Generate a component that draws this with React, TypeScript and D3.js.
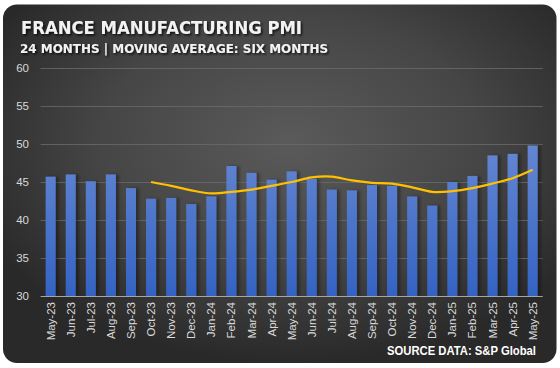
import React, { useRef, useEffect } from "react";
import * as d3 from "d3";

// month labels on the x axis
const months = [
  "May-23", "Jun-23", "Jul-23", "Aug-23", "Sep-23", "Oct-23", "Nov-23", "Dec-23",
  "Jan-24", "Feb-24", "Mar-24", "Apr-24", "May-24", "Jun-24", "Jul-24", "Aug-24",
  "Sep-24", "Oct-24", "Nov-24", "Dec-24", "Jan-25", "Feb-25", "Mar-25", "Apr-25", "May-25",
];

// monthly PMI readings
const pmi = [
  45.7, 46.0, 45.1, 46.0, 44.2, 42.8, 42.9, 42.1, 43.1, 47.1, 46.2, 45.3, 46.4,
  45.4, 44.0, 43.9, 44.6, 44.5, 43.1, 41.9, 45.0, 45.8, 48.5, 48.7, 49.8,
];

// six month moving average (starts at Oct-23)
const maMonths = months.slice(5);
const movingAvg = [
  45.0, 44.5, 43.9, 43.5, 43.7, 44.0, 44.5, 45.0, 45.6, 45.7, 45.2, 44.9, 44.8,
  44.3, 43.7, 43.8, 44.2, 44.8, 45.5, 46.6,
];

const yTicks = [30, 35, 40, 45, 50, 55, 60];

const W = 560;
const H = 368;

const App = () => {
  const svgRef = useRef(null);

  const drawChart = () => {
    const svg = d3.select(svgRef.current);
    svg.selectAll("*").remove();

    const plot = { left: 40.6, right: 542.7, top: 68, bottom: 296 };

    const defs = svg.append("defs");

    /* card background */
    const bg = defs
      .append("radialGradient")
      .attr("id", "bgGrad")
      .attr("cx", "52%")
      .attr("cy", "38%")
      .attr("r", "62%");
    bg.append("stop").attr("offset", "0%").attr("stop-color", "#5a5a5a");
    bg.append("stop").attr("offset", "55%").attr("stop-color", "#464646");
    bg.append("stop").attr("offset", "100%").attr("stop-color", "#292929");

    /* bar fill */
    const barGrad = defs
      .append("linearGradient")
      .attr("id", "barGrad")
      .attr("gradientUnits", "userSpaceOnUse")
      .attr("x1", 0)
      .attr("x2", 0)
      .attr("y1", 140)
      .attr("y2", plot.bottom);
    barGrad.append("stop").attr("offset", "0%").attr("stop-color", "#6688d2");
    barGrad.append("stop").attr("offset", "100%").attr("stop-color", "#3463c3");

    const barShadow = defs.append("filter").attr("id", "barShadow")
      .attr("x", "-20%").attr("y", "-5%").attr("width", "160%").attr("height", "110%");
    barShadow
      .append("feDropShadow")
      .attr("dx", 3)
      .attr("dy", 0)
      .attr("stdDeviation", 1.5)
      .attr("flood-color", "#000")
      .attr("flood-opacity", 0.35);

    const textShadow = defs.append("filter").attr("id", "textShadow");
    textShadow
      .append("feDropShadow")
      .attr("dx", 1.5)
      .attr("dy", 1.5)
      .attr("stdDeviation", 1)
      .attr("flood-color", "#000")
      .attr("flood-opacity", 0.8);

    svg
      .append("rect")
      .attr("width", W)
      .attr("height", H)
      .attr("fill", "#ffffff");

    svg
      .append("rect")
      .attr("x", 3)
      .attr("y", 4.5)
      .attr("width", 553.5)
      .attr("height", 358.5)
      .attr("rx", 14)
      .attr("fill", "url(#bgGrad)");

    /* scales */
    const xScale = d3
      .scaleBand()
      .domain(months)
      .range([plot.left, plot.right])
      .paddingInner(0.5)
      .paddingOuter(0.25);

    const yScale = d3.scaleLinear().domain([30, 60]).range([plot.bottom, plot.top]);

    /* gridlines */
    svg
      .append("g")
      .selectAll("line")
      .data(yTicks.filter((t) => t > 30))
      .enter()
      .append("line")
      .attr("x1", plot.left)
      .attr("x2", plot.right)
      .attr("y1", (d) => yScale(d) + 0.5)
      .attr("y2", (d) => yScale(d) + 0.5)
      .attr("stroke", "#6b6b6b")
      .attr("stroke-width", 0.8);

    /* y labels */
    svg
      .append("g")
      .selectAll("text")
      .data(yTicks)
      .enter()
      .append("text")
      .attr("x", 29)
      .attr("y", (d) => yScale(d))
      .attr("dy", "0.35em")
      .attr("text-anchor", "end")
      .attr("fill", "#d9d9d9")
      .style("font-family", "'Liberation Sans', Arial, sans-serif")
      .style("font-size", "11.5px")
      .text((d) => d);

    /* bars */
    svg
      .append("g")
      .attr("filter", "url(#barShadow)")
      .selectAll("rect")
      .data(pmi)
      .enter()
      .append("rect")
      .attr("x", (d, i) => xScale(months[i]))
      .attr("y", (d) => yScale(d))
      .attr("width", xScale.bandwidth())
      .attr("height", (d) => plot.bottom - yScale(d))
      .attr("fill", "url(#barGrad)");

    /* baseline */
    svg
      .append("line")
      .attr("x1", plot.left)
      .attr("x2", plot.right)
      .attr("y1", plot.bottom + 0.5)
      .attr("y2", plot.bottom + 0.5)
      .attr("stroke", "#a6a6a6")
      .attr("stroke-width", 1);

    /* moving average line */
    const line = d3
      .line()
      .x((d, i) => xScale(maMonths[i]) + xScale.bandwidth() / 2)
      .y((d) => yScale(d))
      .curve(d3.curveCatmullRom);

    svg
      .append("path")
      .datum(movingAvg)
      .attr("d", line)
      .attr("fill", "none")
      .attr("stroke", "#ffc000")
      .attr("stroke-width", 2.25)
      .attr("stroke-linejoin", "round");

    /* x labels */
    svg
      .append("g")
      .selectAll("text")
      .data(months)
      .enter()
      .append("text")
      .attr(
        "transform",
        (d) => `translate(${xScale(d) + xScale.bandwidth() / 2}, 302) rotate(-90)`
      )
      .attr("dy", "0.35em")
      .attr("text-anchor", "end")
      .attr("fill", "#d9d9d9")
      .style("font-family", "'Liberation Sans', Arial, sans-serif")
      .style("font-size", "11.5px")
      .text((d) => d);

    /* titles */
    svg
      .append("text")
      .attr("x", 21)
      .attr("y", 34)
      .attr("fill", "#f2f2f2")
      .attr("filter", "url(#textShadow)")
      .attr("textLength", 281)
      .attr("lengthAdjust", "spacingAndGlyphs")
      .style("font-family", "'DejaVu Sans', sans-serif")
      .style("font-weight", "700")
      .style("font-size", "17px")
      .text("FRANCE MANUFACTURING PMI");

    svg
      .append("text")
      .attr("x", 20)
      .attr("y", 53)
      .attr("fill", "#f2f2f2")
      .attr("filter", "url(#textShadow)")
      .attr("textLength", 308)
      .attr("lengthAdjust", "spacingAndGlyphs")
      .style("font-family", "'DejaVu Sans', sans-serif")
      .style("font-weight", "700")
      .style("font-size", "13px")
      .text("24 MONTHS | MOVING AVERAGE: SIX MONTHS");

    svg
      .append("text")
      .attr("x", 387)
      .attr("y", 355)
      .attr("fill", "#ffffff")
      .attr("textLength", 149)
      .attr("lengthAdjust", "spacingAndGlyphs")
      .style("font-family", "'Liberation Sans Narrow', 'Liberation Sans', sans-serif")
      .style("font-weight", "700")
      .style("font-size", "13px")
      .text("SOURCE DATA: S&P Global");
  };

  useEffect(() => {
    drawChart();
  }, []);

  return (
    <svg
      ref={svgRef}
      width={W}
      height={H}
      style={{ position: "absolute", left: 0, top: 0 }}
    ></svg>
  );
};

export default App;
